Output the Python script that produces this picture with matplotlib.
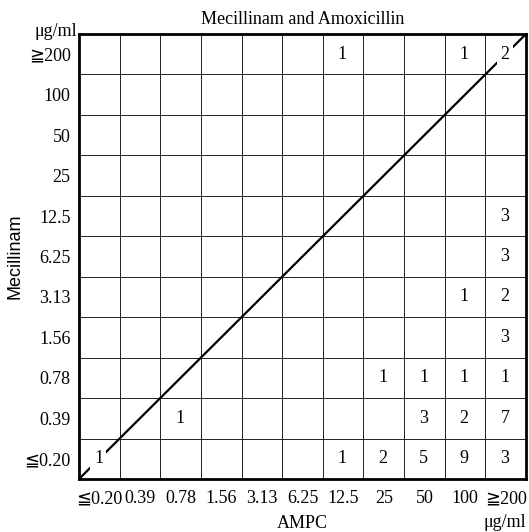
import matplotlib
matplotlib.use('Agg')
import matplotlib.pyplot as plt

plt.rcParams['font.family'] = ['Liberation Serif', 'DejaVu Sans', 'Noto Sans CJK JP']

x_labels = ['≦0.20', '0.39', '0.78', '1.56', '3.13', '6.25', '12.5', '25', '50', '100', '≧200']
y_labels = ['≦0.20', '0.39', '0.78', '1.56', '3.13', '6.25', '12.5', '25', '50', '100', '≧200']

# (column index on AMPC axis, row index on Mecillinam axis, count)
cell_col = [6, 9, 10, 10, 10, 9, 10, 10, 7, 8, 9, 10, 2, 8, 9, 10, 0, 6, 7, 8, 9, 10]
cell_row = [10, 10, 10, 6, 5, 4, 4, 3, 2, 2, 2, 2, 1, 1, 1, 1, 0, 0, 0, 0, 0, 0]
cell_cnt = [1, 1, 2, 3, 3, 1, 2, 3, 1, 1, 1, 1, 1, 3, 2, 7, 1, 1, 2, 5, 9, 3]

n = len(x_labels)
fs = 13

fig = plt.figure(figsize=(5.29, 5.32), dpi=100)
ax = fig.add_axes([0.1493, 0.0996, 0.8450, 0.8365])
ax.set_xlim(0, n)
ax.set_ylim(0, n)

# grid
for i in range(1, n):
    ax.axvline(i, color='#222222', lw=0.7, zorder=1)
    ax.axhline(i, color='#222222', lw=0.7, zorder=1)
for s in ax.spines.values():
    s.set_linewidth(2.0)

# diagonal
ax.plot([0, n], [0, n], color='black', lw=1.6, zorder=2)

for c, r, v in zip(cell_col, cell_row, cell_cnt):
    ax.text(c + 0.48, r + 0.5, str(v), ha='center', va='center', fontsize=fs,
            zorder=3, bbox=dict(facecolor='white', edgecolor='none', pad=2.5))

ax.set_xticks([i + 0.5 for i in range(n)])
ax.set_xticklabels(x_labels, fontsize=fs)
ax.set_yticks([i + 0.5 for i in range(n)])
ax.set_yticklabels(y_labels, fontsize=fs)
ax.tick_params(length=0, pad=6)
ax.tick_params(axis='x', pad=8)

ax.set_title('Mecillinam and Amoxicillin', fontsize=fs, pad=7)
ax.set_xlabel('AMPC', fontsize=fs)
ax.set_ylabel('Mecillinam', fontsize=fs, family=['Liberation Sans', 'DejaVu Sans'])
ax.xaxis.set_label_coords(0.5, -0.081)
ax.yaxis.set_label_coords(-0.123, 0.5)

fig.text(77 / 529, 1 - 36 / 532, 'μg/ml', ha='right', va='baseline', fontsize=fs)
fig.text(526 / 529, 1 - 531 / 532, 'μg/ml', ha='right', va='bottom', fontsize=fs)

fig.savefig('out.png', dpi=100)
